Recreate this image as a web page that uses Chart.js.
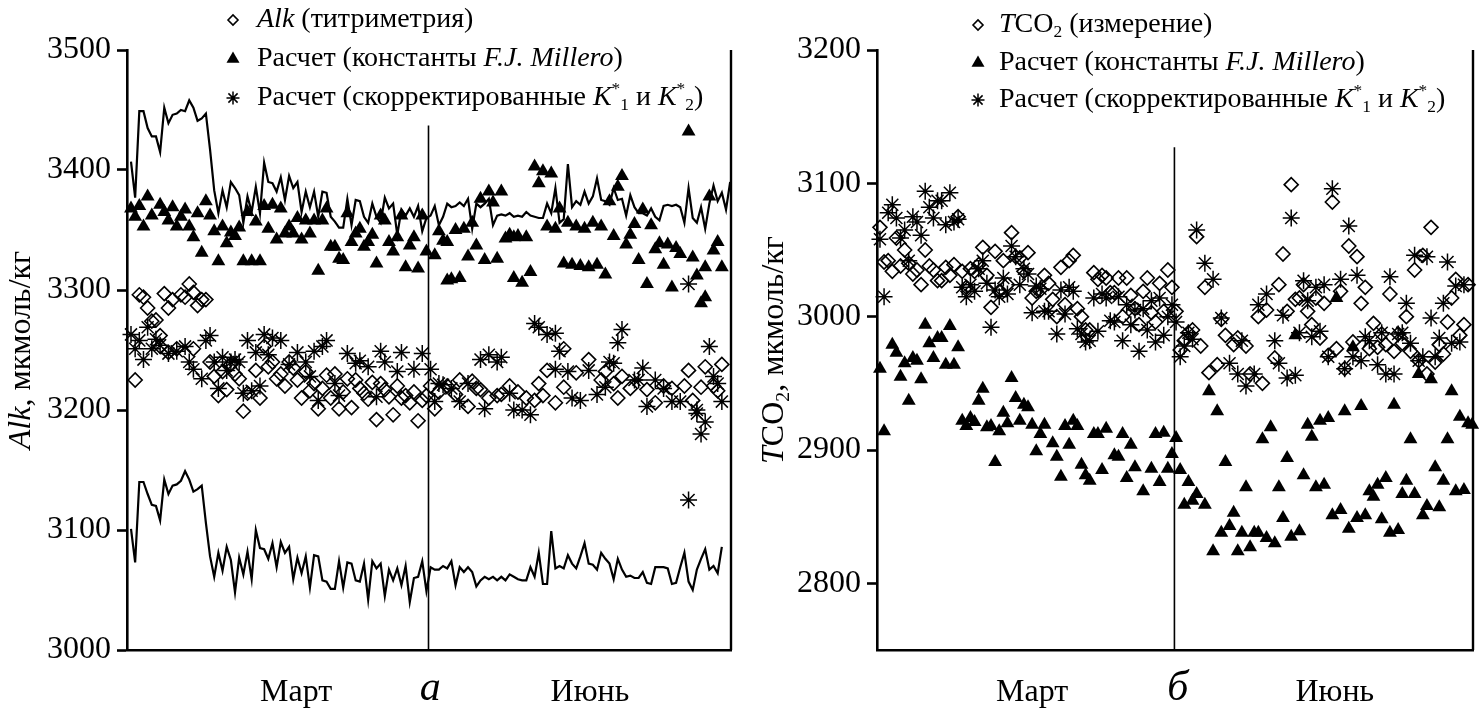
<!DOCTYPE html>
<html>
<head>
<meta charset="utf-8">
<script src="https://cdn.jsdelivr.net/npm/chart.js@4.4.1/dist/chart.umd.min.js"></script>
<style>
    html, body { margin: 0; padding: 0; background: #fff; }
    #wrap { position: relative; width: 1483px; height: 713px; }
    .panel { position: absolute; top: 0; height: 713px; }
    #left { left: 0; width: 741px; }
    #right { left: 741px; width: 742px; }
</style>
</head>
<body>
<div id="wrap">
    <div class="panel" id="left"><canvas id="cLeft"></canvas></div>
    <div class="panel" id="right"><canvas id="cRight"></canvas></div>
</div>
<script>
// --- DATA (x = sample number along the survey, y = µmol/kg) ---

const alkTicks = [3000, 3100, 3200, 3300, 3400, 3500];
const tcoTicks = [2800, 2900, 3000, 3100, 3200];
const seasonLabelsA = ['Март', 'а', 'Июнь'];
const seasonLabelsB = ['Март', 'б', 'Июнь'];
const seasonIdxA = [39.7, 71.9, 110.3];
const seasonIdxB = [37, 72.4, 110.6];

// panel a: envelope lines
const alkUpper = [3407, 3377, 3449, 3449, 3435, 3428, 3428, 3415, 3452, 3439, 3446, 3447, 3450, 3449, 3458, 3452, 3441, 3443, 3447, 3417,
    3383, 3364, 3383, 3369, 3390, 3385, 3379, 3356, 3378, 3365, 3386, 3364, 3406, 3390, 3389, 3382, 3394, 3375, 3395, 3385,
    3390, 3365, 3382, 3369, 3382, 3361, 3382, 3381, 3361, 3357, 3352, 3352, 3376, 3354, 3375, 3374, 3361, 3356, 3372, 3361,
    3356, 3377, 3368, 3372, 3346, 3367, 3362, 3368, 3361, 3370, 3349, 3360, 3362, 3370,
    3354, 3361, 3372, 3369, 3370, 3373, 3370, 3376, 3351, 3372, 3369, 3372, 3376, 3354, 3362, 3363, 3362, 3364, 3361, 3362,
    3361, 3365, 3362, 3361, 3360, 3360, 3372, 3364, 3385, 3356, 3359, 3405, 3369, 3374, 3371, 3382, 3372, 3378, 3393, 3375,
    3374, 3371, 3385, 3375, 3376, 3362, 3379, 3369, 3364, 3364, 3362, 3368, 3361, 3358, 3370, 3371, 3370, 3371, 3369, 3356,
    3385, 3360, 3356, 3369, 3351, 3372, 3387, 3374, 3381, 3367, 3390];
const alkLower = [3101, 3073, 3140, 3140, 3130, 3121, 3120, 3108, 3142, 3130, 3137, 3138, 3141, 3149, 3142, 3132, 3134, 3137, 3106, 3078,
    3061, 3081, 3066, 3086, 3075, 3048, 3077, 3063, 3082, 3059, 3100, 3085, 3084, 3076, 3089, 3069, 3090, 3081, 3086, 3059,
    3077, 3064, 3078, 3052, 3079, 3078, 3058, 3057, 3051, 3051, 3074, 3052, 3073, 3072, 3058, 3057, 3072, 3042, 3074, 3068,
    3072, 3045, 3067, 3058, 3068, 3054, 3070, 3040, 3060, 3061, 3074, 3049, 3069, 3067, 3067, 3070, 3068, 3074, 3054, 3069,
    3065, 3069, 3065, 3053, 3058, 3061, 3059, 3061, 3058, 3061, 3058, 3063, 3061, 3059, 3058, 3058, 3069, 3061, 3081, 3055,
    3055, 3099, 3068, 3070, 3068, 3079, 3072, 3068, 3078, 3089, 3072, 3071, 3067, 3081, 3076, 3072, 3059, 3076, 3067, 3061,
    3062, 3060, 3060, 3065, 3056, 3055, 3069, 3069, 3069, 3068, 3055, 3056, 3069, 3081, 3057, 3050, 3067, 3076, 3084, 3067,
    3070, 3064, 3086];

// panel a: Alk titration (diamonds)
const alkMeasured = [[1,3225],[2,3296],[3,3294],[4,3285],[5,3274],[6,3275],[7,3262],[7,3253],[8,3297],[9,3285],[9,3248],[10,3292],
    [11,3251],[12,3296],[13,3294],[14,3305],[15,3251],[15,3298],[16,3287],[17,3292],[18,3292],[19,3240],[20,3228],[21,3212],
    [22,3232],[23,3217],[24,3238],[25,3230],[26,3226],[27,3199],[28,3214],[30,3233],[31,3210],[32,3253],[33,3236],[34,3240],
    [35,3226],[36,3230],[37,3220],[38,3240],[39,3235],[40,3225],[41,3210],[42,3232],[43,3216],[44,3222],[45,3201],[46,3218],
    [47,3229],[48,3210],[49,3230],[50,3201],[51,3215],[52,3226],[53,3202],[54,3225],[55,3218],[56,3214],[57,3209],[58,3223],
    [59,3192],[60,3222],[61,3217],[62,3211],[63,3196],[64,3220],[65,3210],[66,3212],[67,3206],[68,3215],[69,3191],[70,3208],
    [71,3212],[72,3220],[73,3201],[74,3215],[76,3220],[78,3213],[79,3225],[81,3203],[82,3224],[83,3218],[84,3217],[86,3210],
    [88,3212],[89,3213],[91,3220],[93,3215],[95,3210],[97,3208],[98,3222],[99,3212],[100,3233],[102,3206],[104,3251],[104,3219],
    [107,3231],[110,3242],[113,3225],[114,3232],[116,3222],[117,3210],[118,3228],[120,3218],[124,3217],[126,3206],[128,3220],
    [130,3218],[133,3220],[134,3233],[135,3208],[137,3219],[138,3236],[140,3220],[141,3216],[142,3238]];

// panel a: calculated with F.J. Millero constants (triangles)
const alkMillero = [[0,3368],[1,3361],[2,3370],[3,3353],[4,3378],[5,3362],[7,3371],[8,3365],[9,3358],[10,3369],[11,3353],[12,3361],
    [13,3367],[14,3353],[15,3344],[16,3364],[17,3331],[18,3374],[19,3362],[20,3349],[21,3324],[22,3353],[23,3339],[24,3348],
    [25,3345],[26,3352],[27,3324],[28,3365],[29,3324],[30,3357],[31,3324],[32,3370],[33,3351],[34,3371],[35,3342],[36,3368],
    [37,3347],[38,3353],[39,3347],[40,3360],[41,3342],[42,3358],[43,3347],[44,3358],[45,3316],[46,3358],[47,3368],[48,3336],
    [49,3336],[50,3326],[51,3325],[52,3364],[53,3340],[54,3347],[55,3351],[56,3336],[57,3340],[58,3346],[59,3322],[60,3362],
    [61,3358],[62,3340],[63,3332],[64,3344],[65,3362],[66,3319],[67,3337],[68,3344],[69,3318],[70,3362],[71,3332],[73,3329],
    [74,3349],[75,3341],[76,3340],[76,3308],[77,3309],[78,3350],[79,3310],[80,3351],[81,3328],[82,3356],[83,3337],[84,3376],
    [85,3325],[86,3382],[87,3373],[88,3326],[89,3382],[90,3343],[91,3346],[92,3344],[92,3310],[93,3345],[94,3306],[95,3344],
    [96,3315],[97,3403],[98,3389],[99,3399],[100,3353],[101,3397],[102,3351],[103,3368],[104,3322],[105,3356],[106,3321],
    [107,3353],[108,3320],[109,3351],[110,3319],[111,3356],[112,3321],[113,3353],[114,3313],[115,3374],[116,3345],[117,3386],
    [118,3395],[119,3338],[120,3346],[121,3355],[122,3325],[123,3367],[124,3305],[125,3354],[126,3334],[127,3339],[128,3321],
    [129,3338],[130,3302],[131,3335],[132,3330],[134,3432],[135,3327],[136,3312],[137,3289],[138,3319],[138,3294],[139,3378],
    [140,3333],[141,3340],[142,3319]];

// panel a: calculated with corrected K*1, K*2 (stars)
const alkCorrected = [[0,3263],[1,3251],[2,3258],[3,3242],[4,3269],[5,3251],[6,3259],[7,3254],[9,3247],[11,3249],[13,3253],[14,3240],
    [15,3234],[17,3226],[18,3258],[19,3262],[20,3240],[21,3218],[22,3244],[23,3233],[24,3240],[25,3242],[26,3240],[27,3214],
    [28,3258],[29,3216],[30,3248],[31,3220],[32,3263],[33,3246],[34,3260],[36,3258],[38,3238],[40,3248],[42,3240],[43,3228],
    [44,3249],[45,3208],[46,3253],[47,3258],[49,3222],[50,3212],[52,3247],[54,3239],[55,3241],[57,3236],[59,3211],[60,3249],
    [61,3240],[64,3232],[65,3248],[68,3234],[70,3247],[72,3234],[73,3207],[74,3222],[75,3221],[77,3218],[79,3207],[81,3222],
    [84,3242],[85,3201],[86,3246],[88,3240],[89,3244],[91,3214],[92,3200],[94,3200],[96,3196],[97,3272],[98,3269],[100,3263],
    [102,3264],[102,3234],[103,3249],[105,3232],[106,3210],[108,3208],[110,3233],[112,3213],[114,3219],[115,3240],[116,3239],
    [117,3256],[118,3267],[121,3225],[122,3225],[123,3235],[124,3203],[126,3225],[128,3218],[130,3207],[132,3207],[134,3125],
    [134,3305],[136,3200],[136,3197],[137,3180],[138,3190],[139,3253],[140,3228],[141,3222],[142,3207]];

// panel б: TCO2 measured (diamonds)
const tcoMeasured = [[0,3067],[1,3041],[2,3042],[3,3034],[4,3059],[5,3038],[6,3050],[7,3040],[8,3032],[9,3035],[10,3024],[11,3050],
    [12,3038],[13,3035],[14,3027],[15,3027],[16,3037],[17,3031],[18,3039],[19,3075],[20,3034],[21,3022],[22,3036],[23,3034],
    [24,3039],[25,3052],[26,3031],[27,3007],[28,3049],[29,3019],[30,3042],[31,3024],[32,3063],[33,3045],[34,3044],[35,3034],
    [36,3048],[37,3014],[38,3019],[39,3020],[40,3031],[41,3025],[42,3013],[43,3000],[44,3037],[45,3009],[46,3042],[47,3046],
    [48,3006],[49,3000],[50,2990],[51,2990],[52,3033],[53,3028],[54,3031],[55,3029],[56,3018],[57,3018],[58,3029],[59,3000],
    [60,3029],[61,3016],[62,3006],[63,2994],[64,3019],[65,3029],[66,3003],[67,2996],[68,3025],[69,3004],[70,3035],[71,3022],
    [72,3004],[73,2975],[74,2982],[75,2988],[76,2990],[77,3060],[78,2978],[79,3022],[80,2958],[82,2964],[83,2998],[84,2986],
    [86,2979],[87,2984],[89,2978],[90,2957],[92,3000],[93,2950],[94,3005],[96,2969],[97,3024],[98,3047],[99,3004],[100,3099],
    [101,3013],[102,3014],[103,3024],[104,3004],[105,2994],[106,3014],[107,2984],[108,3010],[109,2971],[110,3086],[111,2976],
    [112,3019],[113,2961],[114,3053],[115,2981],[116,3045],[117,3010],[118,3022],[119,2976],[120,2995],[121,2977],[122,2987],
    [123,2979],[124,3017],[125,2974],[126,2987],[127,2980],[128,3000],[129,2974],[130,3035],[131,2967],[132,3046],[133,2957],
    [134,3067],[135,2966],[136,2979],[137,2972],[138,2996],[139,3014],[140,3028],[141,2986],[142,2994],[143,3024]];

// panel б: calculated with F.J. Millero constants (triangles)
const tcoMillero = [[0,2961],[1,2914],[3,2979],[4,2973],[5,2955],[6,2965],[7,2937],[8,2969],[9,2967],[10,2953],[11,2994],[12,2980],
    [13,2969],[14,2984],[15,2984],[16,2964],[17,2993],[18,2964],[19,2977],[20,2922],[21,2918],[22,2924],[23,2921],[24,2937],
    [25,2946],[26,2917],[27,2918],[28,2891],[29,2914],[30,2928],[31,2920],[32,2954],[33,2939],[34,2922],[35,2934],[36,2932],
    [37,2919],[38,2899],[39,2912],[40,2919],[42,2905],[43,2895],[44,2880],[45,2918],[46,2904],[47,2922],[48,2918],[49,2889],
    [50,2881],[51,2877],[52,2912],[53,2912],[54,2885],[55,2916],[57,2896],[58,2895],[59,2912],[60,2879],[61,2904],[62,2887],
    [64,2869],[66,2886],[67,2912],[68,2876],[69,2913],[70,2886],[71,2897],[72,2909],[73,2885],[74,2859],[75,2876],[76,2862],
    [77,2867],[79,2859],[80,2944],[81,2824],[82,2929],[83,2838],[84,2891],[85,2843],[86,2853],[87,2824],[88,2838],[89,2872],
    [90,2827],[91,2838],[92,2838],[93,2908],[94,2834],[95,2917],[96,2830],[97,2872],[98,2849],[99,2894],[100,2835],[101,2986],
    [102,2839],[103,2881],[104,2919],[105,2910],[106,2872],[107,2922],[108,2874],[109,2924],[110,2851],[111,3014],[112,2855],
    [113,2929],[114,2841],[115,2977],[116,2849],[117,2933],[118,2851],[119,2869],[120,2865],[121,2874],[122,2848],[123,2879],
    [124,2838],[125,2934],[126,2840],[127,2867],[128,2877],[129,2908],[130,2867],[131,2957],[132,2851],[133,2858],[134,2953],
    [135,2887],[136,2857],[137,2877],[138,2908],[139,2944],[140,2869],[141,2925],[142,2870],[143,2920],[144,2919]];

// panel б: calculated with corrected K*1, K*2 (stars)
const tcoCorrected = [[0,3058],[1,3015],[2,3078],[3,3084],[4,3074],[5,3059],[6,3065],[7,3042],[8,3075],[9,3071],[10,3061],[11,3094],
    [12,3082],[13,3074],[14,3087],[15,3087],[16,3069],[17,3093],[18,3071],[19,3073],[20,3022],[21,3015],[22,3024],[23,3019],
    [24,3036],[25,3042],[26,3025],[27,2992],[28,3020],[29,3015],[30,3029],[31,3017],[32,3053],[33,3045],[34,3024],[35,3036],
    [36,3032],[37,3003],[38,3023],[39,3021],[40,3004],[41,3004],[43,2987],[44,3020],[45,3002],[46,3022],[47,3019],[48,2991],
    [49,2987],[50,2981],[51,2982],[52,3014],[53,2989],[54,3017],[55,3014],[56,2997],[57,2996],[58,3015],[59,2982],[60,3009],
    [61,2994],[62,3005],[63,2974],[64,3006],[65,2990],[66,3012],[67,2981],[68,3014],[69,2986],[70,3000],[71,3009],[72,2996],
    [73,2970],[74,2978],[75,2988],[76,2983],[77,3065],[79,3040],[81,3028],[83,2999],[85,2965],[87,2957],[88,2982],[89,2948],
    [91,2957],[92,3009],[94,3017],[96,2982],[97,2965],[98,3001],[99,2954],[100,3074],[101,2956],[102,2988],[103,3027],
    [104,3012],[105,2985],[106,3022],[107,2989],[108,3024],[109,2970],[110,3096],[112,3028],[113,2961],[114,3068],[115,2970],
    [116,3031],[117,2967],[118,2985],[119,2982],[121,2964],[122,2988],[123,2957],[124,3030],[125,2957],[126,2987],[127,2988],
    [128,3010],[129,2980],[130,3046],[131,2967],[132,2970],[133,3045],[134,2999],[135,2970],[136,2984],[137,3010],[138,3041],
    [139,2980],[140,3023],[141,2981],[142,3024]];

// --- STYLE / HELPERS ---

const SERIF = '"Liberation Serif", "Times New Roman", serif';

const markers = {
    diamond: { pointStyle: 'rectRot', radius: 7, fill: 'rgba(0,0,0,0)', border: 1.6 },
    triangle: { pointStyle: 'triangle', radius: 8, fill: '#000', border: 0 },
    star: { pointStyle: 'star', radius: 8.5, fill: 'rgba(0,0,0,0)', border: 1.5 }
};

const seq = arr => arr.map((v, i) => ({ x: i, y: v }));
const pairs = arr => arr.map(p => ({ x: p[0], y: p[1] }));

function scatterSet(points, m) {
    return {
        data: pairs(points),
        pointStyle: m.pointStyle,
        pointRadius: m.radius,
        pointBackgroundColor: m.fill,
        pointBorderColor: '#000',
        pointBorderWidth: m.border,
        showLine: false,
        clip: false
    };
}

function lineSet(values) {
    return {
        type: 'line',
        data: seq(values),
        borderColor: '#000',
        borderWidth: 2.2,
        pointRadius: 0,
        tension: 0,
        fill: false,
        clip: false
    };
}

// text runs: {t, i: italic, sup, sub}
function drawRich(ctx, runs, x, y, size, measureOnly) {
    runs.forEach(r => {
        const small = r.sup || r.sub;
        const fs = small ? size * 0.62 : size;
        ctx.font = (r.i ? 'italic ' : '') + fs + 'px ' + SERIF;
        const dy = r.sub ? size * 0.28 : (r.sup ? -size * 0.3 : 0);
        if (!measureOnly) ctx.fillText(r.t, x, y + dy);
        x += ctx.measureText(r.t).width;
    });
    return x;
}

function drawMarker(ctx, m, x, y, radius) {
    ctx.fillStyle = m.fill;
    ctx.strokeStyle = '#000';
    ctx.lineWidth = m.border || 1;
    Chart.helpers.drawPoint(ctx, { pointStyle: m.pointStyle, radius: radius, borderWidth: m.border, rotation: 0 }, x, y);
}

const panelDecor = {
    id: 'panelDecor',
    beforeDatasetsDraw(chart, args, o) {
        const { ctx, chartArea: a, scales: { x, y } } = chart;
        ctx.save();
        ctx.strokeStyle = '#000';
        ctx.lineWidth = 2.4;
        ctx.beginPath();
        ctx.moveTo(a.right, a.top);
        ctx.lineTo(a.right, a.bottom);
        ctx.stroke();

        const dx = x.getPixelForValue(o.dividerAt);
        ctx.lineWidth = 1.6;
        ctx.beginPath();
        ctx.moveTo(dx, y.getPixelForValue(o.dividerTop));
        ctx.lineTo(dx, a.bottom);
        ctx.stroke();
        ctx.restore();
    },
    afterDraw(chart, args, o) {
        const ctx = chart.ctx;
        ctx.save();
        ctx.textBaseline = 'middle';
        ctx.textAlign = 'left';

        o.legend.forEach((row, i) => {
            const ly = o.legendY[i];
            drawMarker(ctx, markers[row.marker], o.legendX, ly, o.legendRadius[row.marker]);
            ctx.fillStyle = '#000';
            drawRich(ctx, row.text, o.legendTextX, ly, o.legendSize);
        });

        // rotated axis title
        ctx.fillStyle = '#000';
        ctx.translate(o.titleX, o.titleY);
        ctx.rotate(-Math.PI / 2);
        const w = drawRich(ctx, o.title, 0, 0, o.titleSize, true);
        drawRich(ctx, o.title, -w / 2, 0, o.titleSize);
        ctx.restore();
    }
};

function buildPanel(canvasId, p) {
    const datasets = p.lines.map(lineSet).concat([
        scatterSet(p.diamonds, markers.diamond),
        scatterSet(p.triangles, markers.triangle),
        scatterSet(p.stars, markers.star)
    ]);

    return new Chart(document.getElementById(canvasId), {
        type: 'scatter',
        data: { datasets: datasets },
        options: {
            animation: false,
            responsive: true,
            maintainAspectRatio: false,
            layout: { padding: { top: 50, left: 0, right: p.padRight, bottom: 0 } },
            plugins: { legend: { display: false }, tooltip: { enabled: false }, panelDecor: p.decor },
            scales: {
                x: {
                    type: 'linear',
                    min: p.xMin, max: p.xMax,
                    afterBuildTicks: s => { s.ticks = p.seasonIdx.map(v => ({ value: v })); },
                    afterFit: s => { s.height = p.xHeight; },
                    border: { display: true, color: '#000', width: 2.6 },
                    grid: { display: false, drawTicks: false },
                    ticks: {
                        color: '#000',
                        padding: 23,
                        autoSkip: false,
                        maxRotation: 0,
                        callback: (v, i) => p.seasonLabels[i],
                        font: c => c.index === 1
                            ? { family: SERIF, size: 42, style: 'italic', lineHeight: 0.75 }
                            : { family: SERIF, size: 32 }
                    }
                },
                y: {
                    min: p.yMin, max: p.yMax,
                    afterBuildTicks: s => { s.ticks = p.yTicks.map(v => ({ value: v })); },
                    afterFit: s => { s.width = p.yWidth; },
                    border: { display: true, color: '#000', width: 2.6 },
                    grid: { drawOnChartArea: false, drawTicks: true, tickLength: 10, tickWidth: 2.6, tickColor: '#000' },
                    ticks: { color: '#000', padding: 6, font: { family: SERIF, size: 32 }, callback: v => String(v) }
                }
            }
        },
        plugins: [panelDecor]
    });
}

document.addEventListener('DOMContentLoaded', () => {
    const legendRadius = { diamond: 5, triangle: 7.5, star: 6.5 };

    buildPanel('cLeft', {
        lines: [alkUpper, alkLower],
        diamonds: alkMeasured, triangles: alkMillero, stars: alkCorrected,
        xMin: -0.96, xMax: 144.2, yMin: 3000, yMax: 3500, yTicks: alkTicks,
        seasonIdx: seasonIdxA, seasonLabels: seasonLabelsA,
        yWidth: 127, xHeight: 63, padRight: 10,
        decor: {
            dividerAt: 71.5, dividerTop: 3437,
            legendX: 233, legendTextX: 257, legendY: [20, 59, 98], legendSize: 28, legendRadius: legendRadius,
            legend: [
                { marker: 'diamond', text: [{ t: 'Alk', i: 1 }, { t: ' (титриметрия)' }] },
                { marker: 'triangle', text: [{ t: 'Расчет (константы ' }, { t: 'F.J. Millero', i: 1 }, { t: ')' }] },
                { marker: 'star', text: [{ t: 'Расчет (скорректированные ' }, { t: 'K', i: 1 }, { t: '*', sup: 1 }, { t: '1', sub: 1 },
                    { t: ' и ' }, { t: 'K', i: 1 }, { t: '*', sup: 1 }, { t: '2', sub: 1 }, { t: ')' }] }
            ],
            title: [{ t: 'Alk', i: 1 }, { t: ', мкмоль/кг' }],
            titleX: 22, titleY: 350, titleSize: 32
        }
    });

    buildPanel('cRight', {
        lines: [],
        diamonds: tcoMeasured, triangles: tcoMillero, stars: tcoCorrected,
        xMin: -0.72, xMax: 144.2, yMin: 2750, yMax: 3200, yTicks: tcoTicks,
        seasonIdx: seasonIdxB, seasonLabels: seasonLabelsB,
        yWidth: 136, xHeight: 63, padRight: 3,
        decor: {
            dividerAt: 71.6, dividerTop: 3127,
            legendX: 237, legendTextX: 258, legendY: [25, 63, 100], legendSize: 28, legendRadius: legendRadius,
            legend: [
                { marker: 'diamond', text: [{ t: 'T', i: 1 }, { t: 'CO' }, { t: '2', sub: 1 }, { t: ' (измерение)' }] },
                { marker: 'triangle', text: [{ t: 'Расчет (константы ' }, { t: 'F.J. Millero', i: 1 }, { t: ')' }] },
                { marker: 'star', text: [{ t: 'Расчет (скорректированные ' }, { t: 'K', i: 1 }, { t: '*', sup: 1 }, { t: '1', sub: 1 },
                    { t: ' и ' }, { t: 'K', i: 1 }, { t: '*', sup: 1 }, { t: '2', sub: 1 }, { t: ')' }] }
            ],
            title: [{ t: 'T', i: 1 }, { t: 'CO' }, { t: '2', sub: 1 }, { t: ', мкмоль/кг' }],
            titleX: 34, titleY: 350, titleSize: 32
        }
    });
});
</script>
</body>
</html>
